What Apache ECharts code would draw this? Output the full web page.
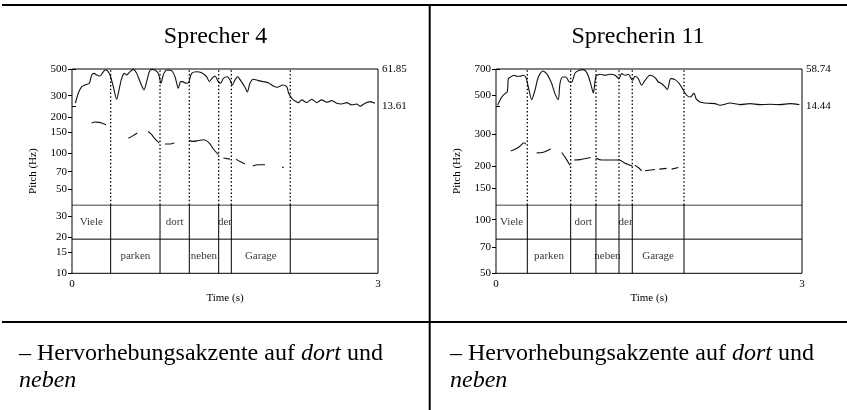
<!DOCTYPE html>
<html>
<head>
<meta charset="utf-8">
<script src="https://cdn.jsdelivr.net/npm/echarts@6/dist/echarts.min.js"></script>
<style>
  html, body { margin: 0; padding: 0; background: #fff; }
  #chart { width: 847px; height: 410px; }
</style>
</head>
<body>
<div id="chart"></div>
<script>
// ---- data ---------------------------------------------------------------
const timeTicks = [0, 3];

// Speaker 4 (male)
const pitchTicks4 = [10, 15, 20, 30, 50, 70, 100, 150, 200, 300, 500];
const intensityTicks4 = [13.61, 61.85];
const boundaries4 = [0.379, 0.863, 1.150, 1.438, 1.562, 2.140];
const intensity4 = [
  [0.033,18.0],[0.062,30.7],[0.095,39.2],[0.127,41.4],[0.170,43.5],[0.193,54.2],[0.216,56.3],
  [0.242,54.2],[0.275,52.9],[0.301,57.1],[0.324,60.6],[0.346,59.7],[0.373,54.2],[0.405,39.2],
  [0.438,23.0],[0.464,37.1],[0.487,49.9],[0.513,56.3],[0.536,54.2],[0.569,58.4],[0.601,61.4],
  [0.634,56.3],[0.667,45.6],[0.706,35.0],[0.732,45.6],[0.758,58.4],[0.781,61.4],[0.814,60.6],
  [0.846,56.3],[0.873,43.5],[0.895,54.2],[0.928,60.6],[0.977,59.7],[1.010,52.0],[1.042,37.1],
  [1.065,45.6],[1.085,45.6],[1.118,43.5],[1.144,44.8],[1.173,56.3],[1.222,58.4],[1.271,57.1],
  [1.320,52.0],[1.346,45.6],[1.373,49.9],[1.402,52.9],[1.435,45.6],[1.458,43.5],[1.484,49.9],
  [1.523,52.0],[1.549,47.8],[1.572,41.4],[1.598,47.8],[1.624,52.0],[1.654,46.9],[1.696,38.4],
  [1.719,32.4],[1.745,43.5],[1.778,48.7],[1.827,46.9],[1.876,45.6],[1.925,44.3],[1.974,40.1],
  [2.013,38.4],[2.065,41.4],[2.105,39.2],[2.124,30.7],[2.154,24.4],[2.170,22.2],[2.219,18.7],
  [2.252,22.2],[2.301,18.7],[2.350,23.0],[2.399,18.7],[2.448,22.2],[2.497,19.2],[2.546,21.3],
  [2.595,17.9],[2.644,17.0],[2.693,18.7],[2.742,15.8],[2.791,17.0],[2.824,14.0],[2.873,17.9],
  [2.922,20.0],[2.971,17.9]
];
const pitch4 = [
  [[0.193,178],[0.225,181],[0.258,180],[0.291,178],[0.333,172]],
  [[0.552,133],[0.595,139],[0.640,147]],
  [[0.748,151],[0.781,142],[0.814,131],[0.856,121]],
  [[0.912,119],[0.961,119],[1.003,122]],
  [[1.150,127],[1.190,125],[1.238,127],[1.294,129],[1.346,121],[1.386,108],[1.435,97]],
  [[1.484,91],[1.549,89]],
  [[1.608,89],[1.647,85],[1.696,81]],
  [[1.771,78],[1.827,80],[1.892,80]],
  [[2.060,76],[2.075,76]]
];

// Speaker 11 (female)
const pitchTicks11 = [50, 70, 100, 150, 200, 300, 500, 700];
const intensityTicks11 = [14.44, 58.74];
const boundaries11 = [0.307, 0.732, 0.980, 1.206, 1.336, 1.843];
const intensity11 = [
  [0.016,15.3],[0.056,25.2],[0.088,29.3],[0.111,31.2],[0.121,47.2],[0.144,49.2],[0.176,51.2],
  [0.203,50.0],[0.235,50.0],[0.268,51.2],[0.294,48.4],[0.317,37.2],[0.350,22.1],[0.382,33.2],
  [0.415,49.2],[0.458,56.3],[0.497,53.2],[0.546,41.3],[0.578,29.3],[0.611,22.1],[0.627,41.3],
  [0.654,49.2],[0.686,49.2],[0.719,43.2],[0.742,43.2],[0.775,54.0],[0.817,57.2],[0.856,58.0],
  [0.895,53.2],[0.928,41.3],[0.954,30.0],[0.980,50.0],[1.020,52.4],[1.069,51.2],[1.118,52.4],
  [1.167,51.2],[1.206,47.2],[1.232,53.2],[1.265,51.2],[1.297,52.4],[1.337,45.2],[1.363,50.0],
  [1.395,47.2],[1.428,39.2],[1.461,45.2],[1.510,51.2],[1.559,48.4],[1.591,43.2],[1.624,41.3],
  [1.657,37.2],[1.680,34.1],[1.713,47.2],[1.755,46.0],[1.797,41.3],[1.837,33.2],[1.869,27.2],
  [1.908,25.2],[1.941,30.0],[1.961,23.3],[2.000,19.2],[2.049,18.0],[2.098,17.6],[2.147,17.3],
  [2.196,15.3],[2.294,18.0],[2.392,16.1],[2.490,17.3],[2.588,16.1],[2.686,16.5],[2.784,16.1],
  [2.882,17.3],[2.974,16.1]
];
const pitch11 = [
  [[0.144,243],[0.186,248],[0.235,258],[0.275,270],[0.294,265]],
  [[0.399,237],[0.464,239],[0.536,249]],
  [[0.644,238],[0.686,220],[0.725,202]],
  [[0.765,216],[0.824,217],[0.928,223]],
  [[0.980,222],[1.036,216],[1.118,216],[1.209,216],[1.265,207],[1.314,202],[1.337,200]],
  [[1.363,202],[1.395,196],[1.428,188]],
  [[1.461,188],[1.559,191]],
  [[1.601,192],[1.673,194]],
  [[1.722,192],[1.788,196]]
];

// Words of the utterance; they alternate between tier 1 and tier 2
const words = ['Viele', 'parken', 'dort', 'neben', 'der', 'Garage'];

// ---- layout -------------------------------------------------------------
const FONT = '"Liberation Serif", "Times New Roman", serif';
const INK = '#111';
const PLOT_W = 306;
const PLOT_TOP = 69;
const PLOT_H = 204.3;
const TG_TOP = 205;

const panels = [
  { left: 72,  pitchTicks: pitchTicks4,  intensityTicks: intensityTicks4,  intensityH: 37.6,
    boundaries: boundaries4,  intensity: intensity4,  pitch: pitch4 },
  { left: 496, pitchTicks: pitchTicks11, intensityTicks: intensityTicks11, intensityH: 37.0,
    boundaries: boundaries11, intensity: intensity11, pitch: pitch11 }
];

const grid = [], xAxis = [], yAxis = [], series = [];
const tickText = { fontFamily: FONT, fontSize: 11, color: '#000' };
const hiddenX = (g) => ({ type: 'value', gridIndex: g, min: 0, max: 3, show: false });

panels.forEach((p, k) => {
  const base = k * 4;
  const gMain = base, gUpper = base + 1, gInt = base + 2, gTg = base + 3;

  grid.push(
    { left: p.left, top: PLOT_TOP, width: PLOT_W, height: PLOT_H, show: true,
      borderColor: '#000', borderWidth: 1, backgroundColor: 'transparent' },
    { left: p.left, top: PLOT_TOP, width: PLOT_W, height: TG_TOP - PLOT_TOP },
    { left: p.left, top: PLOT_TOP, width: PLOT_W, height: p.intensityH },
    { left: p.left, top: TG_TOP, width: PLOT_W, height: PLOT_TOP + PLOT_H - TG_TOP }
  );

  xAxis.push(
    { type: 'value', gridIndex: gMain, min: 0, max: 3,
      axisLine: { show: false }, axisTick: { show: false }, splitLine: { show: false },
      axisLabel: Object.assign({ customValues: timeTicks, margin: 5 }, tickText),
      name: 'Time (s)', nameLocation: 'middle', nameGap: 19, nameTextStyle: tickText },
    hiddenX(gUpper), hiddenX(gInt), hiddenX(gTg)
  );

  const pMin = p.pitchTicks[0], pMax = p.pitchTicks[p.pitchTicks.length - 1];
  yAxis.push(
    { type: 'log', logBase: 10, gridIndex: gMain, min: pMin, max: pMax,
      axisLine: { show: false }, splitLine: { show: false },
      axisTick: { show: true, length: 4, customValues: p.pitchTicks, lineStyle: { color: '#000' } },
      axisLabel: Object.assign({ customValues: p.pitchTicks, margin: 5 }, tickText),
      name: 'Pitch (Hz)', nameLocation: 'middle', nameRotate: 90, nameGap: 33, nameTextStyle: tickText },
    { type: 'value', gridIndex: gUpper, min: 0, max: 1, show: false },
    { type: 'value', gridIndex: gInt, position: 'right',
      min: p.intensityTicks[0], max: p.intensityTicks[1],
      axisLine: { show: false }, splitLine: { show: false },
      axisTick: { show: true, length: 4, customValues: p.intensityTicks, lineStyle: { color: '#000' } },
      axisLabel: Object.assign({ customValues: p.intensityTicks, margin: 4,
        formatter: (v) => Number(v).toFixed(2) }, tickText) },
    { type: 'value', gridIndex: gTg, min: 0, max: 2, show: false }
  );

  const common = { type: 'line', symbol: 'none', silent: true, animation: false };

  // pitch contour, one piece per voiced stretch
  p.pitch.forEach((seg) => {
    series.push(Object.assign({}, common, {
      xAxisIndex: gMain, yAxisIndex: gMain, data: seg, smooth: 0.3,
      lineStyle: { color: INK, width: 1.1 }
    }));
  });

  // intensity contour
  series.push(Object.assign({}, common, {
    xAxisIndex: gInt, yAxisIndex: gInt, data: p.intensity, smooth: 0.25, clip: false,
    lineStyle: { color: INK, width: 1.1 }
  }));

  // word boundaries: dotted above the TextGrid, solid inside it
  p.boundaries.forEach((b) => {
    series.push(Object.assign({}, common, {
      xAxisIndex: gUpper, yAxisIndex: gUpper, data: [[b, 0], [b, 1]],
      lineStyle: { color: '#000', width: 1.3, type: [1.5, 2.2] }
    }));
    series.push(Object.assign({}, common, {
      xAxisIndex: gTg, yAxisIndex: gTg, data: [[b, 0], [b, 2]],
      lineStyle: { color: '#000', width: 1 }
    }));
  });

  // tier separators
  [1, 2].forEach((lvl) => {
    series.push(Object.assign({}, common, {
      xAxisIndex: gTg, yAxisIndex: gTg, data: [[0, lvl], [3, lvl]],
      lineStyle: { color: '#000', width: 1 }
    }));
  });

  // word labels centred in their intervals
  const edges = [0].concat(p.boundaries);
  const labelData = words.map((w, i) => ({
    name: w,
    value: [(edges[i] + edges[i + 1]) / 2, i % 2 === 0 ? 1.5 : 0.5]
  }));
  series.push({
    type: 'scatter', xAxisIndex: gTg, yAxisIndex: gTg, silent: true, animation: false,
    symbolSize: 1, itemStyle: { color: 'transparent' }, data: labelData,
    label: Object.assign({ show: true, position: 'inside', formatter: '{b}' }, tickText)
  });
});

// ---- table frame and captions -------------------------------------------
const bigFont = '24px ' + FONT;
const caption = (x, y, text, italic) => ({
  type: 'text', x: x, y: y, silent: true,
  style: {
    text: text, fill: '#000', font: (italic ? 'italic ' : '') + bigFont,
    textAlign: 'left', textVerticalAlign: 'middle', align: 'left', verticalAlign: 'middle',
    rich: { i: { fontStyle: 'italic', fontFamily: FONT, fontSize: 24, fill: '#000' } }
  }
});
const title = (x, text) => ({
  type: 'text', x: x, y: 36.5, silent: true,
  style: { text: text, fill: '#000', font: bigFont,
    textAlign: 'center', textVerticalAlign: 'middle', align: 'center', verticalAlign: 'middle' }
});

const graphic = [
  { type: 'rect', silent: true, shape: { x: 2, y: 4, width: 845, height: 2 }, style: { fill: '#000' } },
  { type: 'rect', silent: true, shape: { x: 428.7, y: 4, width: 2, height: 406 }, style: { fill: '#000' } },
  { type: 'rect', silent: true, shape: { x: 2, y: 321, width: 845, height: 2 }, style: { fill: '#000' } },
  title(215.5, 'Sprecher 4'),
  title(638, 'Sprecherin 11'),
  caption(19, 353.5, '– Hervorhebungsakzente auf {i|dort} und', false),
  caption(19, 380.5, 'neben', true),
  caption(450, 353.5, '– Hervorhebungsakzente auf {i|dort} und', false),
  caption(450, 380.5, 'neben', true)
];

const chart = echarts.init(document.getElementById('chart'), null, { renderer: 'canvas' });
chart.setOption({
  animation: false,
  backgroundColor: '#fff',
  grid: grid,
  xAxis: xAxis,
  yAxis: yAxis,
  series: series,
  graphic: graphic
});
</script>
</body>
</html>
